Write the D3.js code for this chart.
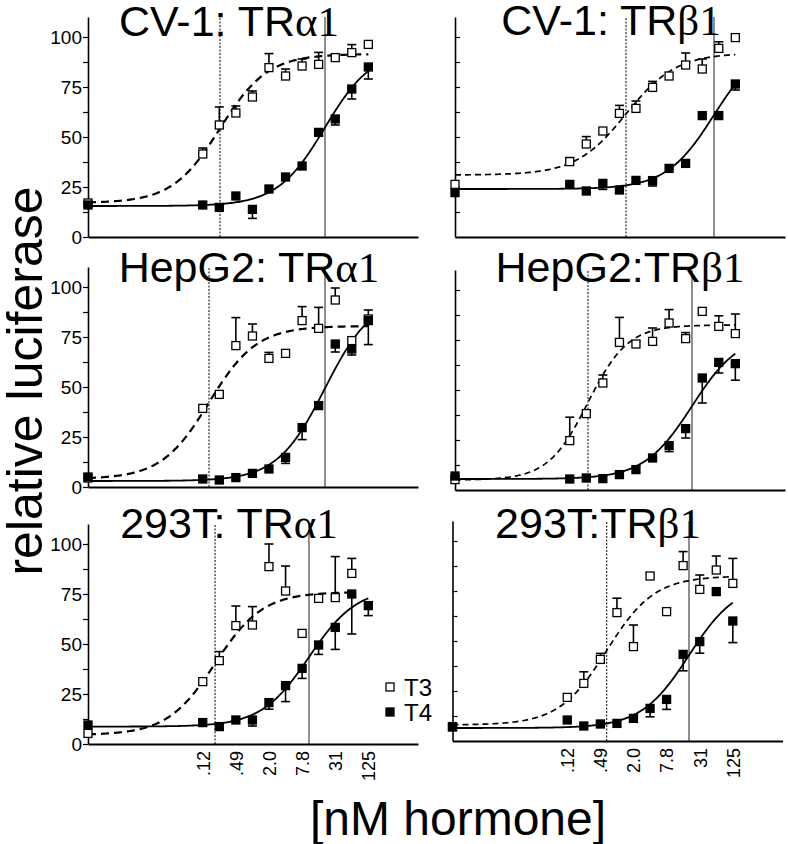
<!DOCTYPE html>
<html>
<head>
<meta charset="utf-8">
<script src="https://cdn.jsdelivr.net/npm/d3@7"></script>
<style>
  body { margin: 0; background: #fff; }
  svg { display: block; font-family: "Liberation Sans", Arial, sans-serif; }
</style>
</head>
<body>
<svg id="chart" width="788" height="844"></svg>
<script>
// doses in nM; 0 = vehicle, plotted at the left end of the log axis
const doses = [0, 0.122, 0.244, 0.488, 0.977, 1.95, 3.91, 7.81, 15.6, 31.3, 62.5, 125];
const tickDoses = [0.122, 0.488, 1.95, 7.81, 31.3, 125];
const tickLabels = ['.12', '.49', '2.0', '7.8', '31', '125'];

const titles = [
  ['CV-1: TR', 'α1'], ['CV-1: TR', 'β1'],
  ['HepG2: TR', 'α1'], ['HepG2:TR', 'β1'],
  ['293T: TR', 'α1'], ['293T:TR', 'β1']
];

// means and one-sided error bars (+ = up, - = down, 0 = none)
const cvA_T3 = [17, 41.5, 56, 62, 70, 84.7, 80.5, 85.5, 86.3, 89.7, 92.2, 96.3];
const cvA_T3err = [0, 3, 9, 3.5, 3, 7, 3.5, 3.5, 6, 1, 4, 0];
const cvA_T4 = [16, 16, 14.8, 20.5, 13.8, 24, 30, 35.5, 52.3, 59, 74, 85];
const cvA_T4err = [0, 0, 0, 0, -4.5, 0, 0, 0, 0, -3, -5, -6];

const cvB_T3 = [26.3, 37.7, 46.5, 53, 61.8, 64.3, 74.8, 80.5, 86, 84, 94.3, 99.7];
const cvB_T3err = [0, 2, 3.7, 0, 4, 3.7, 3, 0, 6, 5, 3.3, 0];
const cvB_T4 = [22.2, 26.3, 23, 26.8, 23.5, 28.3, 28.2, 34.3, 36.8, 60.7, 60.7, 76.5];
const cvB_T4err = [0, 0, 0, -3, 0, 0, -2.7, 0, 0, 0, 0, -3];

const hepA_T3 = [4.5, 39.3, 46.3, 70.7, 75.5, 64.3, 66.8, 83.2, 79.3, 93.5, 73.2, 84];
const hepA_T3err = [0, 0, 0, 14, 6, 3, 0, 7, 10.5, 6, 0, 4.5];
const hepA_T4 = [5, 4, 3.5, 4.7, 6.8, 9, 14.8, 29.7, 40.7, 71.5, 69, 83.2];
const hepA_T4err = [0, 0, 0, 0, 0, 0, -3, -6, 0, -4, -3, -12];

const hepB_T3 = [5.2, 24.7, 38.2, 53.5, 73.8, 73, 74.3, 83.5, 75.7, 89.3, 81.8, 78.2];
const hepB_T3err = [0, 11.7, 0, 4, 12.5, 1.5, 6.7, 6.7, 3, 0, 5.3, 9.8];
const hepB_T4 = [7, 5.5, 6, 5.7, 7.7, 10.2, 16, 22.2, 30.7, 56, 63.8, 63.2];
const hepB_T4err = [0, 0, 0, 0, 0, 0, 0, -3, -4.7, -12.5, -5.3, -8.3];

const k293A_T3 = [5.3, 31.2, 41.7, 59.2, 59.5, 88.7, 76.5, 55.3, 72.8, 73.2, 85.3, null];
const k293A_T3err = [0, 0, 4.5, 9.8, 9.2, 11.3, 12.5, 0, 0, 20.5, 7.5, 0];
const k293A_T4 = [9.5, 10.7, 8.7, 12, 12, 20.7, 29.2, 37.8, 49.5, 58.3, 75, 69.2];
const k293A_T4err = [0, 0, 0, 0, -3, -3.3, -8, -5, -4.7, -11, -20, -5];

const k293B_T3 = [7, 21.8, 28.8, 40.8, 64.2, 47.2, 82.5, 64.7, 87.7, 75.8, 85.5, 78.8];
const k293B_T3err = [0, 0, 5.8, 3, 7.2, 10.8, 1.5, 0, 7, 7.2, 7, 12.5];
const k293B_T4 = [7.2, 10.5, 7.5, 8.5, 8.8, 11.3, 16.3, 20.8, 43.3, 49.7, 74.7, 60];
const k293B_T4err = [0, 0, 0, 0, 0, 0, -4.2, -5, -8.2, -5.8, 0, -10.8];

// sigmoid fits: [bottom, top, logEC50, hill]; EC50 also marks the vertical lines
const fitT3 = [[17, 91.5, -0.6, 1], [31, 92, 0.109, 0.95], [4, 80.5, -0.8, 1],
               [5, 82.5, -0.582, 1.2], [4.5, 76, -0.69, 1], [8, 82.5, -0.196, 1]];
const fitT4 = [[15.5, 94, 1.309, 1], [24, 98, 1.709, 1], [3, 95.7, 1.309, 1],
               [5.5, 78.4, 1.309, 1], [8.7, 78.2, 1.018, 1], [6.5, 79.2, 1.3, 1]];

const panelT3 = [cvA_T3, cvB_T3, hepA_T3, hepB_T3, k293A_T3, k293B_T3];
const panelT3err = [cvA_T3err, cvB_T3err, hepA_T3err, hepB_T3err, k293A_T3err, k293B_T3err];
const panelT4 = [cvA_T4, cvB_T4, hepA_T4, hepB_T4, k293A_T4, k293B_T4];
const panelT4err = [cvA_T4err, cvB_T4err, hepA_T4err, hepB_T4err, k293A_T4err, k293B_T4err];

// panel placement (left x of axis, y of x axis, title centre / baseline)
const layout = [
  { x0: 88, yb: 237, tx: 229, ty: 36 },
  { x0: 455, yb: 237, tx: 611, ty: 35 },
  { x0: 88, yb: 487, tx: 249, ty: 282 },
  { x0: 455, yb: 490, tx: 620, ty: 282 },
  { x0: 88, yb: 744, tx: 229, ty: 538 },
  { x0: 452.5, yb: 741, tx: 598, ty: 538 }
];

const svg = d3.select('#chart');
const W = 330, H = 220;

const sigmoid = (p, c) => p[0] + (p[1] - p[0]) / (1 + Math.pow(10, (p[2] - Math.log10(c)) * p[3]));

layout.forEach((L, pi) => {
  const left = pi % 2 === 0;
  const bottomRow = pi >= 4;
  const g = svg.append('g');

  const x = d3.scaleLog().domain([0.001, 1000]).range([L.x0, L.x0 + W]);
  const y = d3.scaleLinear().domain([0, 110]).range([L.yb, L.yb - H]);
  const xd = c => c === 0 ? x(0.001) : x(c);

  // vertical EC50 lines
  g.append('line')
    .attr('x1', x(Math.pow(10, fitT3[pi][2]))).attr('x2', x(Math.pow(10, fitT3[pi][2])))
    .attr('y1', y(0)).attr('y2', y(110))
    .attr('stroke', '#000').attr('stroke-width', 1).attr('stroke-dasharray', '2,1.5');
  g.append('line')
    .attr('x1', x(Math.pow(10, fitT4[pi][2]))).attr('x2', x(Math.pow(10, fitT4[pi][2])))
    .attr('y1', y(0)).attr('y2', y(110))
    .attr('stroke', '#333').attr('stroke-width', 1.1);

  // y axis
  if (left) {
    const ya = g.append('g').attr('transform', `translate(${L.x0},0)`)
      .call(d3.axisLeft(y).tickValues([0, 25, 50, 75, 100]).tickSize(5).tickSizeOuter(0).tickPadding(1));
    ya.select('.domain').attr('stroke-width', 1.6);
    ya.selectAll('.tick line').attr('stroke-width', 1.2);
    ya.selectAll('text').style('font-size', '19px').style('font-family', '"Liberation Sans", Arial, sans-serif');
    g.append('g').attr('transform', `translate(${L.x0},0)`)
      .call(d3.axisLeft(y).tickValues([12.5, 37.5, 62.5, 87.5]).tickSize(5).tickFormat(''))
      .call(a => a.select('.domain').remove())
      .selectAll('.tick line').attr('stroke-width', 1.2);
  } else {
    const ya = g.append('g').attr('transform', `translate(${L.x0},0)`)
      .call(d3.axisRight(y).tickValues(d3.range(12.5, 101, 12.5)).tickSize(5).tickSizeOuter(0).tickFormat(''));
    ya.select('.domain').attr('stroke-width', 1.6);
    ya.selectAll('.tick line').attr('stroke-width', 1.2);
  }

  // x axis
  const xa = g.append('g').attr('transform', `translate(0,${L.yb})`)
    .call(d3.axisBottom(x).tickValues(bottomRow ? tickDoses : []).tickSize(0).tickSizeOuter(0)
      .tickFormat((d, i) => tickLabels[i]));
  xa.select('.domain').attr('stroke-width', 2);
  xa.selectAll('text')
    .attr('transform', 'rotate(-90)')
    .attr('x', -7).attr('y', 0).attr('dy', '0.35em')
    .style('text-anchor', 'end')
    .style('font-size', '18px')
    .style('font-family', '"Liberation Sans", Arial, sans-serif');

  // fitted curves
  const lastT3 = doses[d3.max(panelT3[pi].map((v, i) => v == null ? -1 : i))];
  const lastT4 = doses[doses.length - 1];
  const line = p => d3.line().x(c => x(c)).y(c => y(sigmoid(p, c)));
  const grid = maxC => d3.range(0, 201).map(k => Math.pow(10, -3 + k * (Math.log10(maxC) + 3) / 200));

  g.append('path').datum(grid(lastT3))
    .attr('d', line(fitT3[pi]))
    .attr('fill', 'none').attr('stroke', '#000')
    .attr('stroke-width', left ? 2.2 : 1.7)
    .attr('stroke-dasharray', left ? '8,5' : '6,4');
  g.append('path').datum(grid(lastT4))
    .attr('d', line(fitT4[pi]))
    .attr('fill', 'none').attr('stroke', '#000').attr('stroke-width', 1.8);

  // points with error bars
  const series = [
    { vals: panelT3[pi], errs: panelT3err[pi], fill: '#fff' },
    { vals: panelT4[pi], errs: panelT4err[pi], fill: '#000' }
  ];
  series.forEach(s => {
    const pts = s.vals.map((v, i) => ({ c: doses[i], v, e: s.errs[i] })).filter(d => d.v != null);
    const eb = g.append('g');
    pts.filter(d => d.e !== 0).forEach(d => {
      eb.append('line').attr('x1', xd(d.c)).attr('x2', xd(d.c))
        .attr('y1', y(d.v)).attr('y2', y(d.v + d.e))
        .attr('stroke', '#000').attr('stroke-width', 1.6);
      eb.append('line').attr('x1', xd(d.c) - 4.5).attr('x2', xd(d.c) + 4.5)
        .attr('y1', y(d.v + d.e)).attr('y2', y(d.v + d.e))
        .attr('stroke', '#000').attr('stroke-width', 1.6);
    });
    g.selectAll(null).data(pts).enter().append('rect')
      .attr('x', d => xd(d.c) - 4).attr('y', d => y(d.v) - 4)
      .attr('width', 8).attr('height', 8)
      .attr('fill', s.fill).attr('stroke', '#000').attr('stroke-width', 1.3);
  });

  // panel title
  const t = g.append('text').attr('x', L.tx).attr('y', L.ty)
    .attr('text-anchor', 'middle').style('font-size', '43px');
  t.append('tspan').style('font-family', '"Liberation Sans", Arial, sans-serif').text(titles[pi][0]);
  t.append('tspan').style('font-family', '"Liberation Serif", "Times New Roman", serif').text(titles[pi][1]);
});

// legend
const legend = svg.append('g').attr('transform', 'translate(390,687)');
[['T3', '#fff'], ['T4', '#000']].forEach(([name, fill], i) => {
  legend.append('rect').attr('x', -4).attr('y', i * 25 - 4).attr('width', 8).attr('height', 8)
    .attr('fill', fill).attr('stroke', '#000').attr('stroke-width', 1.3);
  legend.append('text').attr('x', 14).attr('y', i * 25 + 9)
    .style('font-size', '24px').text(name);
});

// axis titles
svg.append('text')
  .attr('transform', 'translate(42,381) rotate(-90)')
  .attr('text-anchor', 'middle')
  .style('font-size', '50px')
  .text('relative luciferase');

svg.append('text')
  .attr('x', 458).attr('y', 835)
  .attr('text-anchor', 'middle')
  .style('font-size', '48px')
  .text('[nM hormone]');
</script>
</body>
</html>
